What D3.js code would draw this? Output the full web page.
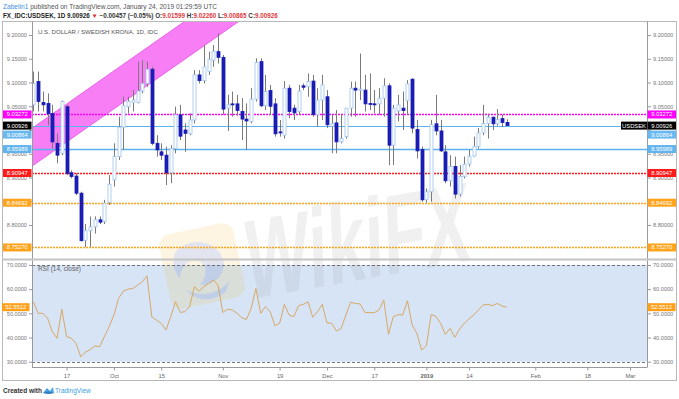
<!DOCTYPE html>
<html><head><meta charset="utf-8">
<script src="https://cdn.jsdelivr.net/npm/d3@7"></script>
<style>
body{margin:0;background:#fff}
svg{display:block}
text{font-family:"Liberation Sans",Arial,sans-serif}
</style>
</head><body>
<svg id="c" width="679" height="399"></svg>
<script>
// ---------------- DATA ----------------
const dates = [
"2018-09-06","2018-09-07","2018-09-10","2018-09-11","2018-09-12","2018-09-13","2018-09-14",
"2018-09-17","2018-09-18","2018-09-19","2018-09-20","2018-09-21","2018-09-24","2018-09-25","2018-09-26","2018-09-27","2018-09-28",
"2018-10-01","2018-10-02","2018-10-03","2018-10-04","2018-10-05","2018-10-08","2018-10-09","2018-10-10","2018-10-11","2018-10-12",
"2018-10-15","2018-10-16","2018-10-17","2018-10-18","2018-10-19","2018-10-22","2018-10-23","2018-10-24","2018-10-25","2018-10-26",
"2018-10-29","2018-10-30","2018-10-31","2018-11-01","2018-11-02","2018-11-05","2018-11-06","2018-11-07","2018-11-08","2018-11-09",
"2018-11-12","2018-11-13","2018-11-14","2018-11-15","2018-11-16","2018-11-19","2018-11-20","2018-11-21","2018-11-22","2018-11-23",
"2018-11-26","2018-11-27","2018-11-28","2018-11-29","2018-11-30","2018-12-03","2018-12-04","2018-12-05","2018-12-06","2018-12-07",
"2018-12-10","2018-12-11","2018-12-12","2018-12-13","2018-12-14","2018-12-17","2018-12-18","2018-12-19","2018-12-20","2018-12-21",
"2018-12-24","2018-12-25","2018-12-26","2018-12-27","2018-12-28","2018-12-31","2019-01-01","2019-01-02","2019-01-03","2019-01-04",
"2019-01-07","2019-01-08","2019-01-09","2019-01-10","2019-01-11","2019-01-14","2019-01-15","2019-01-16","2019-01-17","2019-01-18",
"2019-01-21","2019-01-22","2019-01-23","2019-01-24"];

const open = [9.053,9.102,9.058,9.056,9.035,8.972,8.951,
9.049,8.910,8.903,8.867,8.768,8.788,8.796,8.811,8.807,8.847,
8.895,8.944,9.006,9.049,9.058,9.058,9.082,9.098,9.128,8.972,
8.954,8.947,8.910,8.961,9.032,9.000,8.992,9.021,9.116,9.104,
9.123,9.147,9.165,9.153,9.046,9.055,9.055,9.039,9.023,9.018,
9.065,9.144,9.051,9.083,9.055,8.996,8.989,9.088,9.046,9.039,
9.093,9.091,9.103,9.032,9.063,9.070,9.008,9.015,8.975,8.986,
9.046,9.088,9.084,9.084,9.056,9.055,9.055,9.067,9.093,8.968,
9.040,9.046,9.062,9.107,9.001,8.959,8.853,8.870,9.013,8.998,
8.954,8.893,8.923,8.865,8.902,8.928,8.945,8.965,8.994,9.014,
9.027,9.013,9.024,9.01599];
const high = [9.123,9.123,9.081,9.077,9.053,8.993,9.062,
9.053,8.915,8.909,8.870,8.802,8.818,8.818,8.818,8.853,8.905,
8.972,9.028,9.070,9.070,9.084,9.144,9.147,9.144,9.133,8.989,
8.972,8.965,8.968,9.049,9.053,9.014,9.035,9.126,9.126,9.179,
9.165,9.179,9.2035,9.158,9.074,9.081,9.074,9.067,9.056,9.088,
9.151,9.151,9.116,9.095,9.067,9.021,9.103,9.095,9.053,9.095,
9.098,9.119,9.116,9.088,9.116,9.084,9.032,9.042,9.032,9.046,
9.102,9.102,9.161,9.116,9.119,9.084,9.088,9.109,9.098,9.053,
9.074,9.081,9.105,9.109,9.021,8.965,8.877,9.021,9.074,9.021,
8.968,8.947,8.944,8.926,8.944,8.958,8.986,9.004,9.053,9.034,
9.028,9.044,9.032,9.02260];
const low = [9.039,9.039,9.039,9.010,8.961,8.930,8.947,
8.905,8.898,8.863,8.765,8.754,8.754,8.782,8.802,8.802,8.842,
8.881,8.937,8.958,9.035,9.039,9.056,9.077,9.091,8.968,8.944,
8.937,8.884,8.888,8.951,8.979,8.954,8.989,9.014,9.098,9.098,
9.116,9.133,9.140,9.032,8.998,9.028,9.030,8.979,8.958,9.014,
9.060,9.048,9.042,9.032,8.986,8.986,8.982,9.025,9.021,9.032,
9.084,9.070,9.028,9.007,9.021,9.004,8.951,8.951,8.972,8.982,
9.028,9.028,9.063,9.039,9.042,9.035,9.032,9.028,8.926,8.926,
9.018,9.000,9.032,8.993,8.940,8.849,8.847,8.849,8.989,8.954,
8.888,8.881,8.856,8.860,8.898,8.923,8.944,8.961,8.989,8.982,
9.000,9.009,9.006,9.00865];
const close = [9.098,9.060,9.053,9.034,8.975,8.947,9.060,
8.909,8.902,8.867,8.767,8.788,8.796,8.811,8.806,8.846,8.886,
8.944,9.006,9.051,9.060,9.063,9.082,9.098,9.128,8.972,8.958,
8.947,8.910,8.961,9.032,8.987,8.993,9.021,9.116,9.104,9.133,
9.149,9.166,9.153,9.044,9.053,9.054,9.041,9.023,9.019,9.065,
9.142,9.051,9.081,9.050,8.992,8.994,9.088,9.039,9.036,9.082,
9.090,9.102,9.033,9.063,9.095,9.011,9.013,8.975,8.982,9.046,
9.088,9.084,9.086,9.055,9.054,9.054,9.067,9.093,8.968,9.046,
9.053,9.041,9.097,9.004,8.956,8.853,8.870,9.011,8.998,8.956,
8.893,8.923,8.865,8.902,8.928,8.945,8.965,8.994,9.014,9.027,
9.013,9.022,9.016,9.00926];
const rsi = [54.8,50.0,50.0,48.0,42.4,39.7,51.7,
40.4,39.7,37.6,32.0,34.0,35.0,36.5,36.2,40.4,44.5,
49.3,56.2,59.2,60.0,60.3,61.7,63.1,65.5,48.6,47.2,
45.9,43.1,48.6,54.8,50.4,50.7,52.8,61.0,59.2,61.0,
62.4,63.8,61.7,50.4,51.7,51.4,50.0,48.2,47.5,52.1,
60.3,50.0,52.8,50.7,44.9,45.9,53.7,49.3,48.6,53.2,
53.7,54.8,48.4,50.7,53.7,46.1,45.9,42.7,43.8,49.3,
54.6,54.1,53.9,50.4,50.3,50.3,51.4,55.5,41.3,48.6,
49.5,49.3,55.2,45.2,41.7,34.8,36.6,49.5,48.8,45.9,
41.3,43.8,40.1,43.5,45.9,47.7,49.3,51.4,53.5,53.7,
53.2,54.1,53.0,52.5512];

const priceTicks = [8.80,8.85,8.90,8.95,9.00,9.05,9.10,9.15,9.20];
const rsiTicks = [30,40,50,60,70];
const tickDates = ["2018-09-17","2018-10-01","2018-10-15","2018-11-01","2018-11-19","2018-12-03","2018-12-17","2019-01-01","2019-01-14","2019-02-01","2019-02-18","2019-03-01"];
const tickLabels = ["17","Oct","15","Nov","19","Dec","17","2019","14","Feb","18","Mar"];
const levelValues = [9.03272,8.95989,8.90947,8.84692,8.75270];
const currentLineValue = 9.00864;
const lastPrice = 9.00926;
const lastRsi = 52.5512;
const rsiBands = [70,30];
const channelDates = ["2018-09-05","2018-11-30"];
const channelUpper = [8.9989,9.4315];
const channelLower = [8.9189,9.3515];
const symbolName = "USDSEK";
const chartTitle = "U.S. DOLLAR / SWEDISH KRONA, 1D, IDC";
const rsiTitle = "RSI (14, close)";

// ---------------- SETUP ----------------
const svg = d3.select("#c");
const parse = d3.utcParse("%Y-%m-%d");
const base = parse("2018-09-17");
function tIndex(s){ const d = parse(s); const days = Math.round((d-base)/864e5); const w = Math.floor(days/7); const r = days-w*7; return w*5+Math.min(r,5); }

const L = 32, R = 647, T = 22, MB = 259, RT = 260, RB = 367;
const x = d3.scaleLinear().domain([-7.3,122.6]).range([L,R]);
const y = d3.scaleLinear().domain([8.72842,9.22737]).range([MB,T]);
const yr = d3.scaleLinear().domain([27.81,72.07]).range([RB,RT]);
const fmt5 = d3.format(".5f"), fmt4 = d3.format(".4f");

const defs = svg.append("defs");
defs.append("clipPath").attr("id","mainClip").append("rect").attr("x",L).attr("y",T).attr("width",R-L).attr("height",MB-T);
defs.append("clipPath").attr("id","rsiClip").append("rect").attr("x",L).attr("y",RT).attr("width",R-L).attr("height",RB-RT);

function fitText(sel, target){
  const w = sel.node().getComputedTextLength();
  const fs = parseFloat(sel.attr("font-size"));
  if (w > 0) sel.attr("font-size", (fs*target/w).toFixed(2));
}

// header
const h1 = svg.append("text").attr("x",3).attr("y",8.5).attr("font-size",7);
h1.append("tspan").attr("fill","#3b8fe0").text("Zabelin1");
h1.append("tspan").attr("fill","#555").text(" published on TradingView.com, January 24, 2019 01:29:59 UTC");
fitText(h1, 214);
const h2 = svg.append("text").attr("x",3).attr("y",17.5).attr("font-size",7).attr("font-weight","bold");
h2.append("tspan").attr("fill","#222").text("FX_IDC:USDSEK, 1D " + lastPrice.toFixed(5) + " ");
h2.append("tspan").attr("fill","#d32f2f").text("▼");
h2.append("tspan").attr("fill","#333").text(" \u22120.00457 (\u22120.05%) O:");
h2.append("tspan").attr("fill","#e0393e").text(open[open.length-1].toFixed(5));
h2.append("tspan").attr("fill","#333").text(" H:");
h2.append("tspan").attr("fill","#e0393e").text(high[high.length-1].toFixed(5));
h2.append("tspan").attr("fill","#333").text(" L:");
h2.append("tspan").attr("fill","#e0393e").text(low[low.length-1].toFixed(5));
h2.append("tspan").attr("fill","#333").text(" C:");
h2.append("tspan").attr("fill","#e0393e").text(close[close.length-1].toFixed(5));
fitText(h2, 275);

// frame
svg.append("rect").attr("x",2.5).attr("y",21.5).attr("width",674).attr("height",359).attr("fill","none").attr("stroke","#b8b8b8");

// RSI background band
svg.append("rect").attr("x",L).attr("width",R-L).attr("y",yr(rsiBands[0])).attr("height",yr(rsiBands[1])-yr(rsiBands[0])).attr("fill","#d7e4f6");

// watermark (behind marks, faint)
const logo = svg.append("g").attr("transform","translate(202,266) rotate(-12)").attr("opacity",0.13);
logo.append("rect").attr("x",-38).attr("y",-38).attr("width",76).attr("height",76).attr("rx",12).attr("fill","#f1b820");
logo.append("path").attr("d","M-22,-20 C-5,-32 22,-22 22,0 C22,12 8,22 -6,18 C4,10 6,-2 -4,-6 C-14,-10 -22,-2 -24,8 C-30,-4 -28,-14 -22,-20Z").attr("fill","#2c3f8a");
logo.append("path").attr("d","M-20,20 C-10,30 10,32 24,20 L18,30 C4,38 -14,34 -20,20Z").attr("fill","#2c3f8a");
svg.append("text").attr("transform","translate(358,250) rotate(-10) skewX(-8)")
  .attr("text-anchor","middle").attr("dominant-baseline","middle")
  .attr("font-size",112).attr("font-weight","bold").attr("fill","#7a7a7a").attr("opacity",0.1)
  .attr("textLength",228).attr("lengthAdjust","spacingAndGlyphs").text("WikiFX");

// ----- main panel -----
const main = svg.append("g").attr("clip-path","url(#mainClip)");
const cx = channelDates.map(tIndex);
const poly = [[x(cx[0]),y(channelUpper[0])],[x(cx[1]),y(channelUpper[1])],[x(cx[1]),y(channelLower[1])],[x(cx[0]),y(channelLower[0])]];
main.append("path").attr("d","M"+poly.map(p=>p.join(",")).join("L")+"Z").attr("fill","#f77ef5").attr("stroke","#e84fe6").attr("stroke-width",0.8);

const levelStyle = [
 {c:"#ff00ff",dash:"2,1",lab:"#ff00ff"},
 {c:"#5cb2ef",dash:null,lab:"#62b4ee"},
 {c:"#ff1a1a",dash:"2,1",lab:"#ff1a1a"},
 {c:"#ffa31a",dash:"2,1",lab:"#ffa31a"},
 {c:"#ffa31a",dash:"2,1",lab:"#ffa31a"}];
levelValues.forEach((v,i)=>{
  main.append("line").attr("x1",L).attr("x2",R).attr("y1",Math.round(y(v))+0.5).attr("y2",Math.round(y(v))+0.5)
   .attr("stroke",levelStyle[i].c).attr("stroke-width",1.3).attr("stroke-dasharray",levelStyle[i].dash);
});
main.append("line").attr("x1",L).attr("x2",R).attr("y1",Math.round(y(currentLineValue))+0.5).attr("y2",Math.round(y(currentLineValue))+0.5)
   .attr("stroke","#5cb2ef").attr("stroke-width",1.2);

// candles
const candles = dates.map((d,i)=>({i:tIndex(d),o:open[i],h:high[i],l:low[i],c:close[i]}));
const cw = 3;
main.selectAll(".wick").data(candles).join("line").attr("class","wick")
  .attr("x1",d=>Math.round(x(d.i))+0.5).attr("x2",d=>Math.round(x(d.i))+0.5)
  .attr("y1",d=>y(d.h)).attr("y2",d=>y(d.l)).attr("stroke","#7a7a7a").attr("stroke-width",1);
main.selectAll(".body").data(candles).join("rect").attr("class","body")
  .attr("x",d=>Math.round(x(d.i))+0.5-cw/2).attr("width",cw)
  .attr("y",d=>y(Math.max(d.o,d.c))).attr("height",d=>Math.max(1,Math.abs(y(d.o)-y(d.c))))
  .attr("fill",d=>d.c<d.o?"#1a1db3":"#ffffff")
  .attr("stroke",d=>d.c<d.o?"#1a1db3":"#9fc4ec").attr("stroke-width",0.8);

// chart title
const tt = svg.append("text").attr("x",38).attr("y",34).attr("font-size",7).attr("fill","#555").text(chartTitle);
fitText(tt, 120);

// ----- RSI panel -----
const rp = svg.append("g").attr("clip-path","url(#rsiClip)");
rsiBands.forEach(v=>{
  rp.append("line").attr("x1",L).attr("x2",R).attr("y1",Math.round(yr(v))+0.5).attr("y2",Math.round(yr(v))+0.5)
   .attr("stroke","#555").attr("stroke-dasharray","3,2").attr("stroke-width",0.8);
});
const rsiLine = d3.line().x((d,i)=>x(tIndex(dates[i]))).y(d=>yr(d));
rp.append("path").attr("d",rsiLine(rsi)).attr("fill","none").attr("stroke","#d6a865").attr("stroke-width",1);
svg.append("text").attr("x",38).attr("y",270.5).attr("font-size",6.5).attr("fill","#666").text(rsiTitle);

// axes lines
svg.append("line").attr("x1",L+0.5).attr("x2",L+0.5).attr("y1",21.5).attr("y2",RB).attr("stroke","#9a9a9a");
svg.append("line").attr("x1",R+0.5).attr("x2",R+0.5).attr("y1",21.5).attr("y2",RB).attr("stroke","#9a9a9a");
svg.append("line").attr("x1",2.5).attr("x2",676.5).attr("y1",259.5).attr("y2",259.5).attr("stroke","#c4c4c4").attr("stroke-width",2);
svg.append("line").attr("x1",L).attr("x2",R+0.5).attr("y1",RB+0.5).attr("y2",RB+0.5).attr("stroke","#9a9a9a");

// level labels positions (with collision push)
const labs = [
 {v:levelValues[0],f:levelStyle[0].lab},
 {v:lastPrice,f:"#000"},
 {v:currentLineValue,f:"#6ab8f0"},
 {v:levelValues[1],f:levelStyle[1].lab},
 {v:levelValues[2],f:levelStyle[2].lab},
 {v:levelValues[3],f:levelStyle[3].lab},
 {v:levelValues[4],f:levelStyle[4].lab}];
let prev = -1e9;
labs.forEach(l=>{ let yc = y(l.v); if (yc < prev+9) yc = prev+9; prev = yc; l.yc = yc; });

// price axes (left + right); hide tick labels fully covered by level boxes
const covered = v => labs.some(l => Math.abs(y(v)-l.yc) < 4.45);
const axStyle = g=>{ g.select(".domain").remove(); g.selectAll("line").attr("stroke","#999"); g.selectAll("text").attr("fill","#777").attr("font-size",5.6).attr("font-family","Liberation Sans, Arial, sans-serif"); };
const pf = v => covered(v) ? "" : fmt5(v);
svg.append("g").attr("transform",`translate(${L},0)`).call(d3.axisLeft(y).tickValues(priceTicks).tickFormat(pf).tickSize(3).tickPadding(2)).call(axStyle);
svg.append("g").attr("transform",`translate(${R+1},0)`).call(d3.axisRight(y).tickValues(priceTicks).tickFormat(pf).tickSize(3).tickPadding(2)).call(axStyle);
const rf = v => Math.abs(yr(v)-yr(lastRsi)) < 3.5 ? "" : fmt4(v);
svg.append("g").attr("transform",`translate(${L},0)`).call(d3.axisLeft(yr).tickValues(rsiTicks).tickFormat(rf).tickSize(3).tickPadding(2)).call(axStyle);
svg.append("g").attr("transform",`translate(${R+1},0)`).call(d3.axisRight(yr).tickValues(rsiTicks).tickFormat(rf).tickSize(3).tickPadding(2)).call(axStyle);

// time axis
const tickIdx = tickDates.map(tIndex);
const xa = svg.append("g").attr("transform",`translate(0,${RB+0.5})`)
  .call(d3.axisBottom(x).tickValues(tickIdx).tickFormat((d,i)=>tickLabels[i]).tickSize(3).tickPadding(3));
xa.select(".domain").remove();
xa.selectAll("line").attr("stroke","#999");
xa.selectAll("text").attr("fill","#666").attr("font-size",5.8).attr("font-weight",(d,i)=>tickLabels[i]==="2019"?"bold":"normal");

function box(xl, yc, w, fill, txt, tcol){
  svg.append("rect").attr("x",xl).attr("y",yc-4).attr("width",w).attr("height",8).attr("fill",fill);
  svg.append("text").attr("x",xl+w/2).attr("y",yc+2).attr("text-anchor","middle").attr("font-size",5.8).attr("fill",tcol||"#fff").text(txt);
}
labs.forEach(l=>{
  box(3, l.yc, 28.5, l.f, fmt5(l.v));
  box(R+0.5, l.yc, 28.5, l.f, fmt5(l.v));
});
box(621, labs[1].yc, 26, "#000", symbolName);
box(2, yr(lastRsi), 27.5, "#ff9f1a", fmt4(lastRsi));
box(R+0.5, yr(lastRsi), 28, "#ff9f1a", fmt4(lastRsi));

// footer
svg.append("text").attr("x",3).attr("y",393).attr("font-size",6.5).attr("font-weight","bold").attr("fill","#333").text("Created with");
const tv = svg.append("g").attr("transform","translate(43,387)");
tv.append("path").attr("d","M0,6 L4,1 L7,4 L10,0 L11,6 Z").attr("fill","#4aa3df");
tv.append("path").attr("d","M0,6 Q5,3 11,6 Q6,8 0,6Z").attr("fill","#2f7fc0");
svg.append("text").attr("x",55).attr("y",393).attr("font-size",6.5).attr("fill","#3ba0e0").text("TradingView");
</script>
</body></html>
